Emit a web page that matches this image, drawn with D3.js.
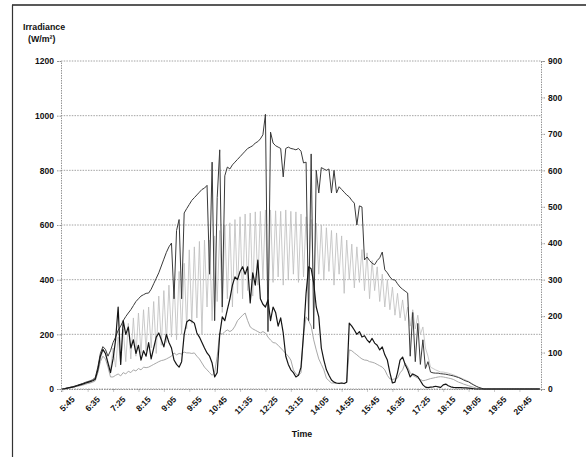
<!DOCTYPE html>
<html>
<head>
<meta charset="utf-8">
<script src="https://cdn.jsdelivr.net/npm/d3@7"></script>
<style>
	body { margin: 0; background: #fff; }
	text { font-family: "Liberation Sans", Arial, sans-serif; font-weight: bold; fill: #111; }
</style>
</head>
<body>
<script>

//time labels (every 10th 5-minute reading, starting 5:45)
var timeLabels = ["5:45","6:35","7:25","8:15","9:05","9:55","10:45","11:35","12:25","13:15",
	"14:05","14:55","15:45","16:35","17:25","18:15","19:05","19:55","20:45"];

var leftTicks = [0, 200, 400, 600, 800, 1000, 1200];
var rightTicks = [0, 100, 200, 300, 400, 500, 600, 700, 800, 900];

//irradiance readings (W/m2), one per 5 minutes
var seriesTop = [
	0, 2, 4, 6, 8, 11, 14, 17, 20, 24,
	27, 30, 34, 42, 80, 130, 155, 145, 120, 140,
	170, 190, 215, 230, 250, 265, 278, 290, 305, 320,
	330, 340, 345, 350, 351, 365, 385, 405, 425, 450,
	475, 500, 520, 534, 330, 580, 620, 330, 644, 660,
	675, 690, 700, 710, 720, 730, 735, 745, 420, 830,
	250, 700, 875, 300, 780, 812, 805, 820, 830, 840,
	850, 860, 870, 880, 885, 890, 900, 905, 915, 930,
	1005, 210, 940, 900, 890, 885, 880, 776, 880, 885,
	880, 878, 875, 880, 870, 827, 830, 250, 860, 220,
	800, 717, 810, 805, 800, 805, 717, 800, 717, 740,
	730, 720, 710, 703, 690, 680, 600, 670, 666, 472,
	483, 470, 460, 455, 470, 480, 501, 436, 425, 410,
	400, 399, 385, 373, 365, 358, 351, 120, 280, 100,
	240, 90, 180, 75, 100, 62, 59, 58, 58, 56,
	55, 54, 52, 50, 48, 45, 42, 38, 33, 29,
	26, 20, 15, 10, 6, 3, 0, 0, 0, 0,
	0, 0, 0, 0, 0, 0, 0, 0, 0, 0,
	0, 0, 0, 0, 0, 0, 0, 0, 0
];

var seriesBand = [
	0, 2, 4, 6, 8, 10, 13, 16, 19, 22,
	25, 28, 32, 38, 60, 110, 140, 130, 100, 70,
	150, 80, 190, 90, 220, 100, 240, 110, 260, 120,
	278, 130, 290, 140, 300, 150, 320, 130, 340, 160,
	360, 170, 380, 190, 399, 180, 430, 200, 460, 220,
	509, 240, 520, 260, 540, 200, 545, 300, 545, 250,
	560, 320, 580, 280, 600, 330, 608, 300, 620, 350,
	630, 330, 640, 360, 644, 340, 648, 380, 650, 400,
	655, 330, 655, 390, 652, 410, 650, 380, 655, 400,
	650, 420, 648, 390, 640, 410, 630, 400, 620, 380,
	607, 420, 600, 400, 590, 430, 580, 380, 571, 420,
	560, 350, 545, 400, 530, 370, 520, 390, 510, 360,
	498, 330, 470, 360, 447, 320, 420, 300, 400, 290,
	373, 270, 350, 260, 326, 250, 300, 230, 290, 220,
	270, 200, 227, 150, 120, 80, 75, 70, 66, 62,
	62, 60, 58, 55, 52, 48, 44, 40, 36, 32,
	28, 22, 15, 10, 5, 2, 0, 0, 0, 0,
	0, 0, 0, 0, 0, 0, 0, 0, 0, 0,
	0, 0, 0, 0, 0, 0, 0, 0, 0
];

var seriesDark = [
	0, 1, 3, 5, 7, 9, 12, 15, 18, 21,
	24, 27, 30, 36, 70, 120, 145, 130, 95, 60,
	110, 180, 300, 90, 250, 200, 227, 150, 180, 130,
	160, 106, 140, 120, 170, 110, 150, 190, 205, 180,
	154, 200, 170, 150, 106, 90, 80, 100, 200, 245,
	253, 248, 241, 205, 190, 170, 150, 132, 120, 95,
	44, 60, 200, 264, 250, 290, 330, 380, 410, 400,
	430, 447, 420, 447, 315, 425, 380, 472, 330, 310,
	300, 326, 250, 300, 280, 230, 260, 205, 120, 90,
	70, 60, 44, 50, 80, 200, 350, 447, 440, 388,
	300, 264, 150, 106, 70, 50, 33, 25, 22, 20,
	22, 20, 25, 241, 230, 216, 200, 210, 190, 195,
	180, 170, 185, 168, 160, 143, 154, 125, 106, 60,
	22, 25, 60, 106, 117, 90, 70, 44, 55, 50,
	45, 30, 15, 7, 5, 7, 8, 10, 8, 6,
	15, 18, 12, 8, 6, 5, 5, 5, 4, 4,
	3, 2, 1, 0, 0, 0, 0, 0, 0, 0,
	0, 0, 0, 0, 0, 0, 0, 0, 0, 0,
	0, 0, 0, 0, 0, 0, 0, 0, 0
];

var seriesLight = [
	0, 1, 2, 4, 6, 8, 10, 12, 14, 17,
	20, 22, 25, 30, 60, 100, 120, 110, 80, 44,
	44, 50, 55, 48, 60, 55, 65, 60, 70, 66,
	75, 70, 80, 78, 80, 85, 90, 95, 100, 104,
	106, 110, 115, 120, 132, 125, 130, 128, 135, 132,
	132, 130, 132, 120, 110, 95, 80, 70, 60, 50,
	60, 120, 205, 200, 210, 216, 210, 216, 230, 250,
	260, 270, 278, 250, 227, 220, 215, 210, 205, 210,
	205, 190, 179, 170, 168, 160, 150, 140, 130, 120,
	106, 70, 55, 50, 60, 200, 264, 250, 230, 180,
	143, 110, 90, 70, 40, 30, 22, 22, 20, 22,
	22, 20, 25, 143, 140, 132, 125, 117, 110, 106,
	105, 100, 98, 95, 90, 85, 80, 70, 50, 37,
	35, 37, 40, 59, 70, 95, 80, 60, 50, 45,
	40, 35, 30, 32, 35, 38, 40, 42, 44, 45,
	44, 42, 40, 38, 35, 30, 25, 22, 18, 15,
	12, 9, 6, 3, 1, 0, 0, 0, 0, 0,
	0, 0, 0, 0, 0, 0, 0, 0, 0, 0,
	0, 0, 0, 0, 0, 0, 0, 0, 0
];

var width = 588,
	height = 457,
	margin = {top: 61, right: 47, bottom: 68, left: 61};

var svg = d3.select("body").append("svg")
	.attr("width", width)
	.attr("height", height);

//scales: x is the reading number, y is irradiance
var xScale = d3.scaleLinear().domain([0, 189]).range([margin.left, width - margin.right]),
	yScale = d3.scaleLinear().domain([0, 1200]).range([height - margin.bottom, margin.top]),
	yRight = d3.scaleLinear().domain([0, 900]).range([height - margin.bottom, margin.top]);

var x0 = xScale.range()[0], x1 = xScale.range()[1],
	yb = yScale.range()[0], yt = yScale.range()[1];

//outer frame (top and left edges of the scanned box)
svg.append("line").attr("x1", 12).attr("y1", 5).attr("x2", 586).attr("y2", 5)
	.style("stroke", "#222").style("stroke-width", 1.5);
svg.append("line").attr("x1", 12.5).attr("y1", 5).attr("x2", 12.5).attr("y2", height)
	.style("stroke", "#333").style("stroke-width", 1.2);

//gridlines
svg.append("g").selectAll("line")
	.data(leftTicks).enter()
		.append("line")
		.attr("x1", x0).attr("x2", x1)
		.attr("y1", function(d) { return yScale(d); })
		.attr("y2", function(d) { return yScale(d); })
		.style("stroke", "#9a9a9a")
		.style("stroke-width", 0.9)
		.style("stroke-dasharray", "1.5,1.2");

//axes
var yAxisLeft = d3.axisLeft(yScale).tickValues(leftTicks).tickFormat(d3.format("d")).tickSize(4).tickPadding(3),
	yAxisRight = d3.axisRight(yRight).tickValues(rightTicks).tickFormat(d3.format("d")).tickSize(4).tickPadding(3),
	xAxisBottom = d3.axisBottom(xScale)
		.tickValues(timeLabels.map(function(d, i) { return i * 10 + 0.5; }))
		.tickSize(3)
		.tickFormat("");

var gYleft = svg.append("g")
	.attr("class", "axis axis-y-left")
	.attr("transform", "translate(" + x0 + ",0)")
	.call(yAxisLeft);
var gYright = svg.append("g")
	.attr("class", "axis axis-y-right")
	.attr("transform", "translate(" + x1 + ",0)")
	.call(yAxisRight);
var gXbottom = svg.append("g")
	.attr("class", "axis axis-x-bottom")
	.attr("transform", "translate(0," + yb + ")")
	.call(xAxisBottom);

svg.selectAll(".axis path, .axis line")
	.style("stroke", "#8a8a8a")
	.style("stroke-width", 0.9)
	.style("stroke-dasharray", "1.5,1");
svg.selectAll(".axis text")
	.style("font-size", "8.5px")
	.style("font-family", "'Liberation Sans', Arial, sans-serif")
	.style("font-weight", "bold")
	.style("fill", "#111");

//rotated time labels
svg.append("g").selectAll("text")
	.data(timeLabels).enter()
		.append("text")
		.attr("transform", function(d, i) {
			return "translate(" + (xScale(i * 10 + 0.5) + 13) + "," + (yb + 11) + ") rotate(-45)";
		})
		.style("text-anchor", "end")
		.style("font-size", "8.5px")
		.text(function(d) { return d; });

//axis titles
svg.append("text").attr("x", 23).attr("y", 30).style("font-size", "8.8px").text("Irradiance");
svg.append("text").attr("x", 28).attr("y", 42).style("font-size", "8.8px").text("(W/m²)");
svg.append("text").attr("x", 302).attr("y", 437)
	.style("text-anchor", "middle").style("font-size", "8.8px").text("Time");

//the four traces
var line = d3.line()
	.x(function(d, i) { return xScale(i + 0.5); })
	.y(function(d) { return yScale(d); });

function addSeries(values, color, w){
	svg.append("path")
		.datum(values)
		.attr("d", line)
		.style("fill", "none")
		.style("stroke", color)
		.style("stroke-width", w)
		.style("stroke-linejoin", "round");
}

addSeries(seriesBand, "#bdbdbd", 0.8);
addSeries(seriesLight, "#a8a8a8", 1);
addSeries(seriesTop, "#3a3a3a", 1);
addSeries(seriesDark, "#151515", 1.2);

</script>
</body>
</html>
